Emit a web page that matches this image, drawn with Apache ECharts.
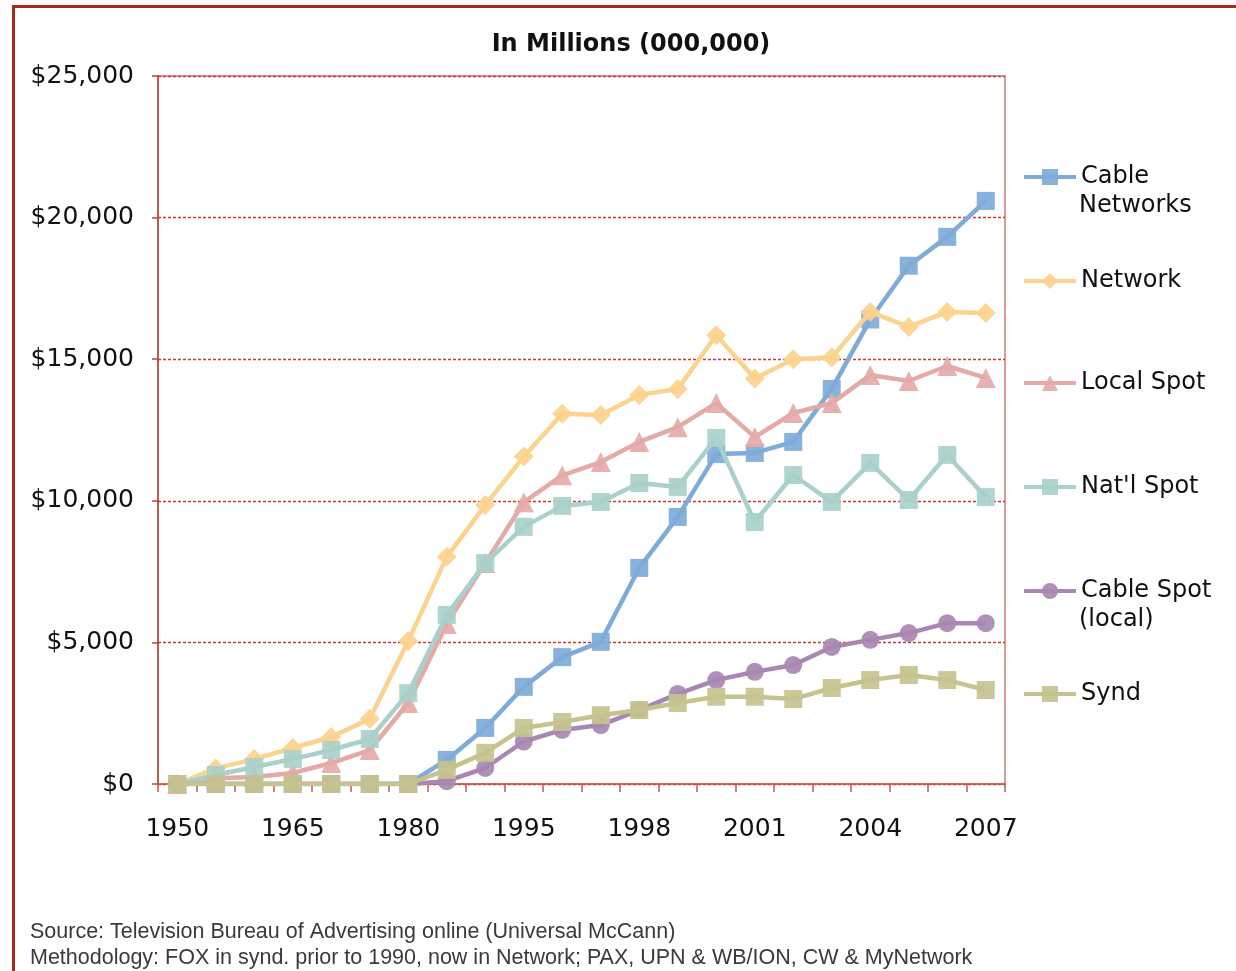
<!DOCTYPE html>
<html>
<head>
<meta charset="utf-8">
<title>TV Advertising Revenue</title>
<script src="https://cdn.jsdelivr.net/npm/echarts@6/dist/echarts.min.js"></script>
<style>
  html, body { margin: 0; padding: 0; background: #ffffff; }
  #chart { width: 1236px; height: 971px; }
</style>
</head>
<body>
<div id="chart"></div>
<script>
// Years on the category axis
const years = ['1950', '1955', '1960', '1965', '1970', '1975', '1980', '1985', '1990',
  '1995', '1996', '1997', '1998', '1999', '2000', '2001', '2002', '2003', '2004',
  '2005', '2006', '2007'];

// Advertising revenue, $ millions
const cableNetworks = [0, 0, 0, 0, 0, 0, 0, 850, 1980, 3430, 4480, 5020, 7630, 9430,
  11650, 11690, 12080, 13950, 16400, 18300, 19320, 20590];
const network = [0, 550, 880, 1270, 1660, 2300, 5050, 8020, 9850, 11560, 13070, 13030,
  13740, 13950, 15850, 14320, 15000, 15060, 16670, 16140, 16670, 16630];
const localSpot = [0, 200, 250, 390, 740, 1200, 2860, 5650, 7800, 9950, 10900, 11370,
  12080, 12600, 13450, 12250, 13100, 13450, 14440, 14230, 14760, 14340];
const natlSpot = [0, 320, 600, 880, 1200, 1590, 3210, 5970, 7800, 9080, 9820, 9960,
  10630, 10490, 12220, 9250, 10910, 9960, 11340, 10030, 11620, 10130];
const cableSpotLocal = [0, 0, 0, 0, 0, 0, 0, 100, 565, 1500, 1910, 2080, 2610, 3180,
  3670, 3960, 4200, 4840, 5090, 5330, 5680, 5680];
const synd = [0, 0, 0, 0, 0, 0, 0, 500, 1100, 1980, 2190, 2430, 2610, 2860, 3080,
  3080, 3000, 3390, 3670, 3850, 3670, 3320];

const seriesNames = ['Cable Networks', 'Network', 'Local Spot', "Nat'l Spot", 'Cable Spot (local)', 'Synd'];
// Legend text: first line beside the icon, optional second line beneath it
const legendFirstLines = ['Cable', 'Network', 'Local Spot', "Nat'l Spot", 'Cable Spot', 'Synd'];
const legendSecondLines = ['Networks', '', '', '', '(local)', ''];
const yTicks = [0, 5000, 10000, 15000, 20000, 25000];

const seriesData = [cableNetworks, network, localSpot, natlSpot, cableSpotLocal, synd];
const colors = ['#7eabd8', '#fcd38e', '#e4aaa8', '#a9d0ca', '#a888b2', '#c5c38e'];
const symbols = ['rect', 'diamond', 'triangle', 'rect', 'circle', 'rect'];
const symbolSizes = [18, 20, 20, 18, 18, 18];
const legendCenters = [175, 279, 381, 485, 589, 692];

const FONT = '"DejaVu Sans", sans-serif';
const LEGEND_TEXT_X = 1079;
const chart = echarts.init(document.getElementById('chart'), null, { renderer: 'canvas' });

const fmtMoney = v => '$' + v.toLocaleString('en-US');

const series = seriesNames.map((name, i) => ({
  name: name,
  type: 'line',
  data: seriesData[i],
  symbol: symbols[i],
  symbolSize: symbolSizes[i],
  showSymbol: true,
  lineStyle: { color: colors[i], width: 4.5 },
  itemStyle: { color: colors[i], opacity: 0.92 },
  emphasis: { disabled: true },
  z: 2 + i
}));

// One legend block per series so every entry sits at its own height
const legends = seriesNames.map((name, i) => ({
  data: [name],
  orient: 'vertical',
  left: 1022,
  top: legendCenters[i] - 13,
  padding: 0,
  itemWidth: 52,
  itemHeight: 20,
  selectedMode: false,
  lineStyle: { width: 4 },
  formatter: () => legendFirstLines[i],
  textStyle: { fontFamily: FONT, fontSize: 24, color: '#111111', lineHeight: 30 }
}));

const secondLineTexts = legendSecondLines
  .map((t, i) => ({ t, i }))
  .filter(o => o.t)
  .map(o => ({
    type: 'text', left: LEGEND_TEXT_X, top: legendCenters[o.i] + 30 - 11, silent: true,
    style: { text: o.t, font: '24px ' + FONT, fill: '#111111' }
  }));

const option = {
  animation: false,
  backgroundColor: '#ffffff',
  title: {
    text: 'In Millions (000,000)',
    left: 626,
    top: 28,
    textAlign: 'center',
    textStyle: { fontFamily: FONT, fontSize: 24, fontWeight: 'bold', color: '#111111' }
  },
  legend: legends,
  grid: {
    left: 158,
    right: 231,
    top: 76,
    bottom: 187,
    show: true,
    borderColor: '#d47a76',
    borderWidth: 1.5,
    backgroundColor: 'transparent'
  },
  xAxis: {
    type: 'category',
    data: years,
    boundaryGap: true,
    axisLine: { lineStyle: { color: '#c25a55', width: 1.5 } },
    axisTick: { show: true, interval: 0, length: 8, lineStyle: { color: '#c25a55', width: 1.5 } },
    axisLabel: {
      interval: 2,
      margin: 33,
      fontFamily: FONT,
      fontSize: 25,
      color: '#111111'
    }
  },
  yAxis: {
    type: 'value',
    min: yTicks[0],
    max: yTicks[yTicks.length - 1],
    interval: yTicks[1] - yTicks[0],
    axisLine: { show: true, lineStyle: { color: '#b8443e', width: 1.5 } },
    axisTick: { show: true, length: 6, lineStyle: { color: '#b8443e', width: 1.5 } },
    axisLabel: {
      margin: 24,
      fontFamily: FONT,
      fontSize: 25,
      color: '#111111',
      formatter: fmtMoney
    },
    splitLine: { show: true, lineStyle: { color: '#d2362c', width: 1.3, type: [3, 2] } }
  },
  series: series,
  graphic: [
    { type: 'rect', shape: { x: 12, y: 5, width: 1224, height: 3 }, style: { fill: '#a9291f' }, silent: true },
    { type: 'rect', shape: { x: 12, y: 5, width: 3, height: 966 }, style: { fill: '#a9291f' }, silent: true },
    {
      type: 'text', left: 30, top: 921, silent: true,
      style: {
        text: 'Source: Television Bureau of Advertising online (Universal McCann)',
        font: '21.5px "Liberation Sans", Arial, sans-serif', fill: '#3a3a3a'
      }
    },
    {
      type: 'text', left: 30, top: 947, silent: true,
      style: {
        text: 'Methodology: FOX in synd. prior to 1990, now in Network; PAX, UPN & WB/ION, CW & MyNetwork',
        font: '21.5px "Liberation Sans", Arial, sans-serif', fill: '#3a3a3a'
      }
    }
  ].concat(secondLineTexts)
};

chart.setOption(option);
</script>
</body>
</html>
